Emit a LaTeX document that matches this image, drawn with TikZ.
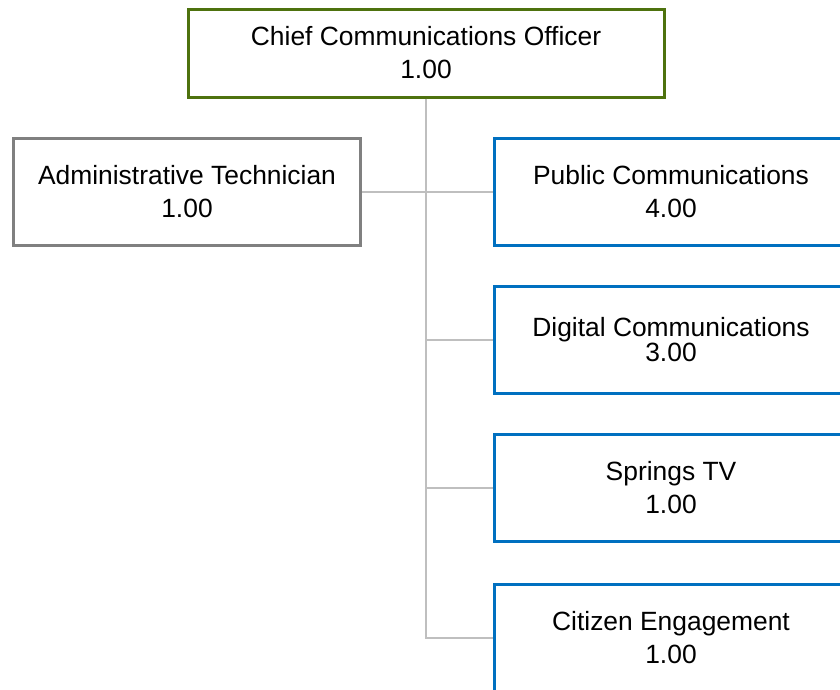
\documentclass[tikz,border=0pt]{standalone}
\usepackage{fontspec}
\setmainfont{Liberation Sans}
\definecolor{boxgreen}{RGB}{78,114,14}
\definecolor{boxblue}{RGB}{0,112,192}
\definecolor{boxgray}{RGB}{128,128,128}
\definecolor{linegray}{RGB}{191,191,191}
\begin{document}
\begin{tikzpicture}[x=1pt,y=-1pt,
  box/.style={draw,line width=3pt,fill=white,rectangle,inner sep=0pt,align=center,
    font=\fontsize{26.4}{33}\selectfont,minimum height=107pt,text=black},
  chiefbox/.style={box,draw=boxgreen,minimum width=476pt,minimum height=88pt},
  admbox/.style={box,draw=boxgray,minimum width=347pt},
  unitbox/.style={box,draw=boxblue,minimum width=353pt},
  conn/.style={draw=linegray,line width=2pt}]
\useasboundingbox (0,0) rectangle (840,689);
\clip (0,0) rectangle (840,689);
\fill[white] (0,0) rectangle (840,689);
\node[chiefbox] (chief) at (426,53) {Chief Communications Officer\\1.00};
\node[admbox] (adm) at (187,191.5) {Administrative Technician\\1.00};
\node[unitbox] (pub) at (671,191.5) {Public Communications\\4.00};
\node[unitbox] (dig) at (671,340) {Digital Communications\\[-8pt]3.00};
\node[unitbox] (tv) at (671,488) {Springs TV\\1.00};
\node[unitbox] (cit) at (671,638) {Citizen Engagement\\1.00};
\draw[conn] (chief.south) -- (chief.south |- cit.west) -- (cit.west);
\draw[conn] (adm.east) -- (pub.west);
\draw[conn] (dig.west) -- (dig.west -| chief.south);
\draw[conn] (tv.west) -- (tv.west -| chief.south);
\end{tikzpicture}
\end{document}
